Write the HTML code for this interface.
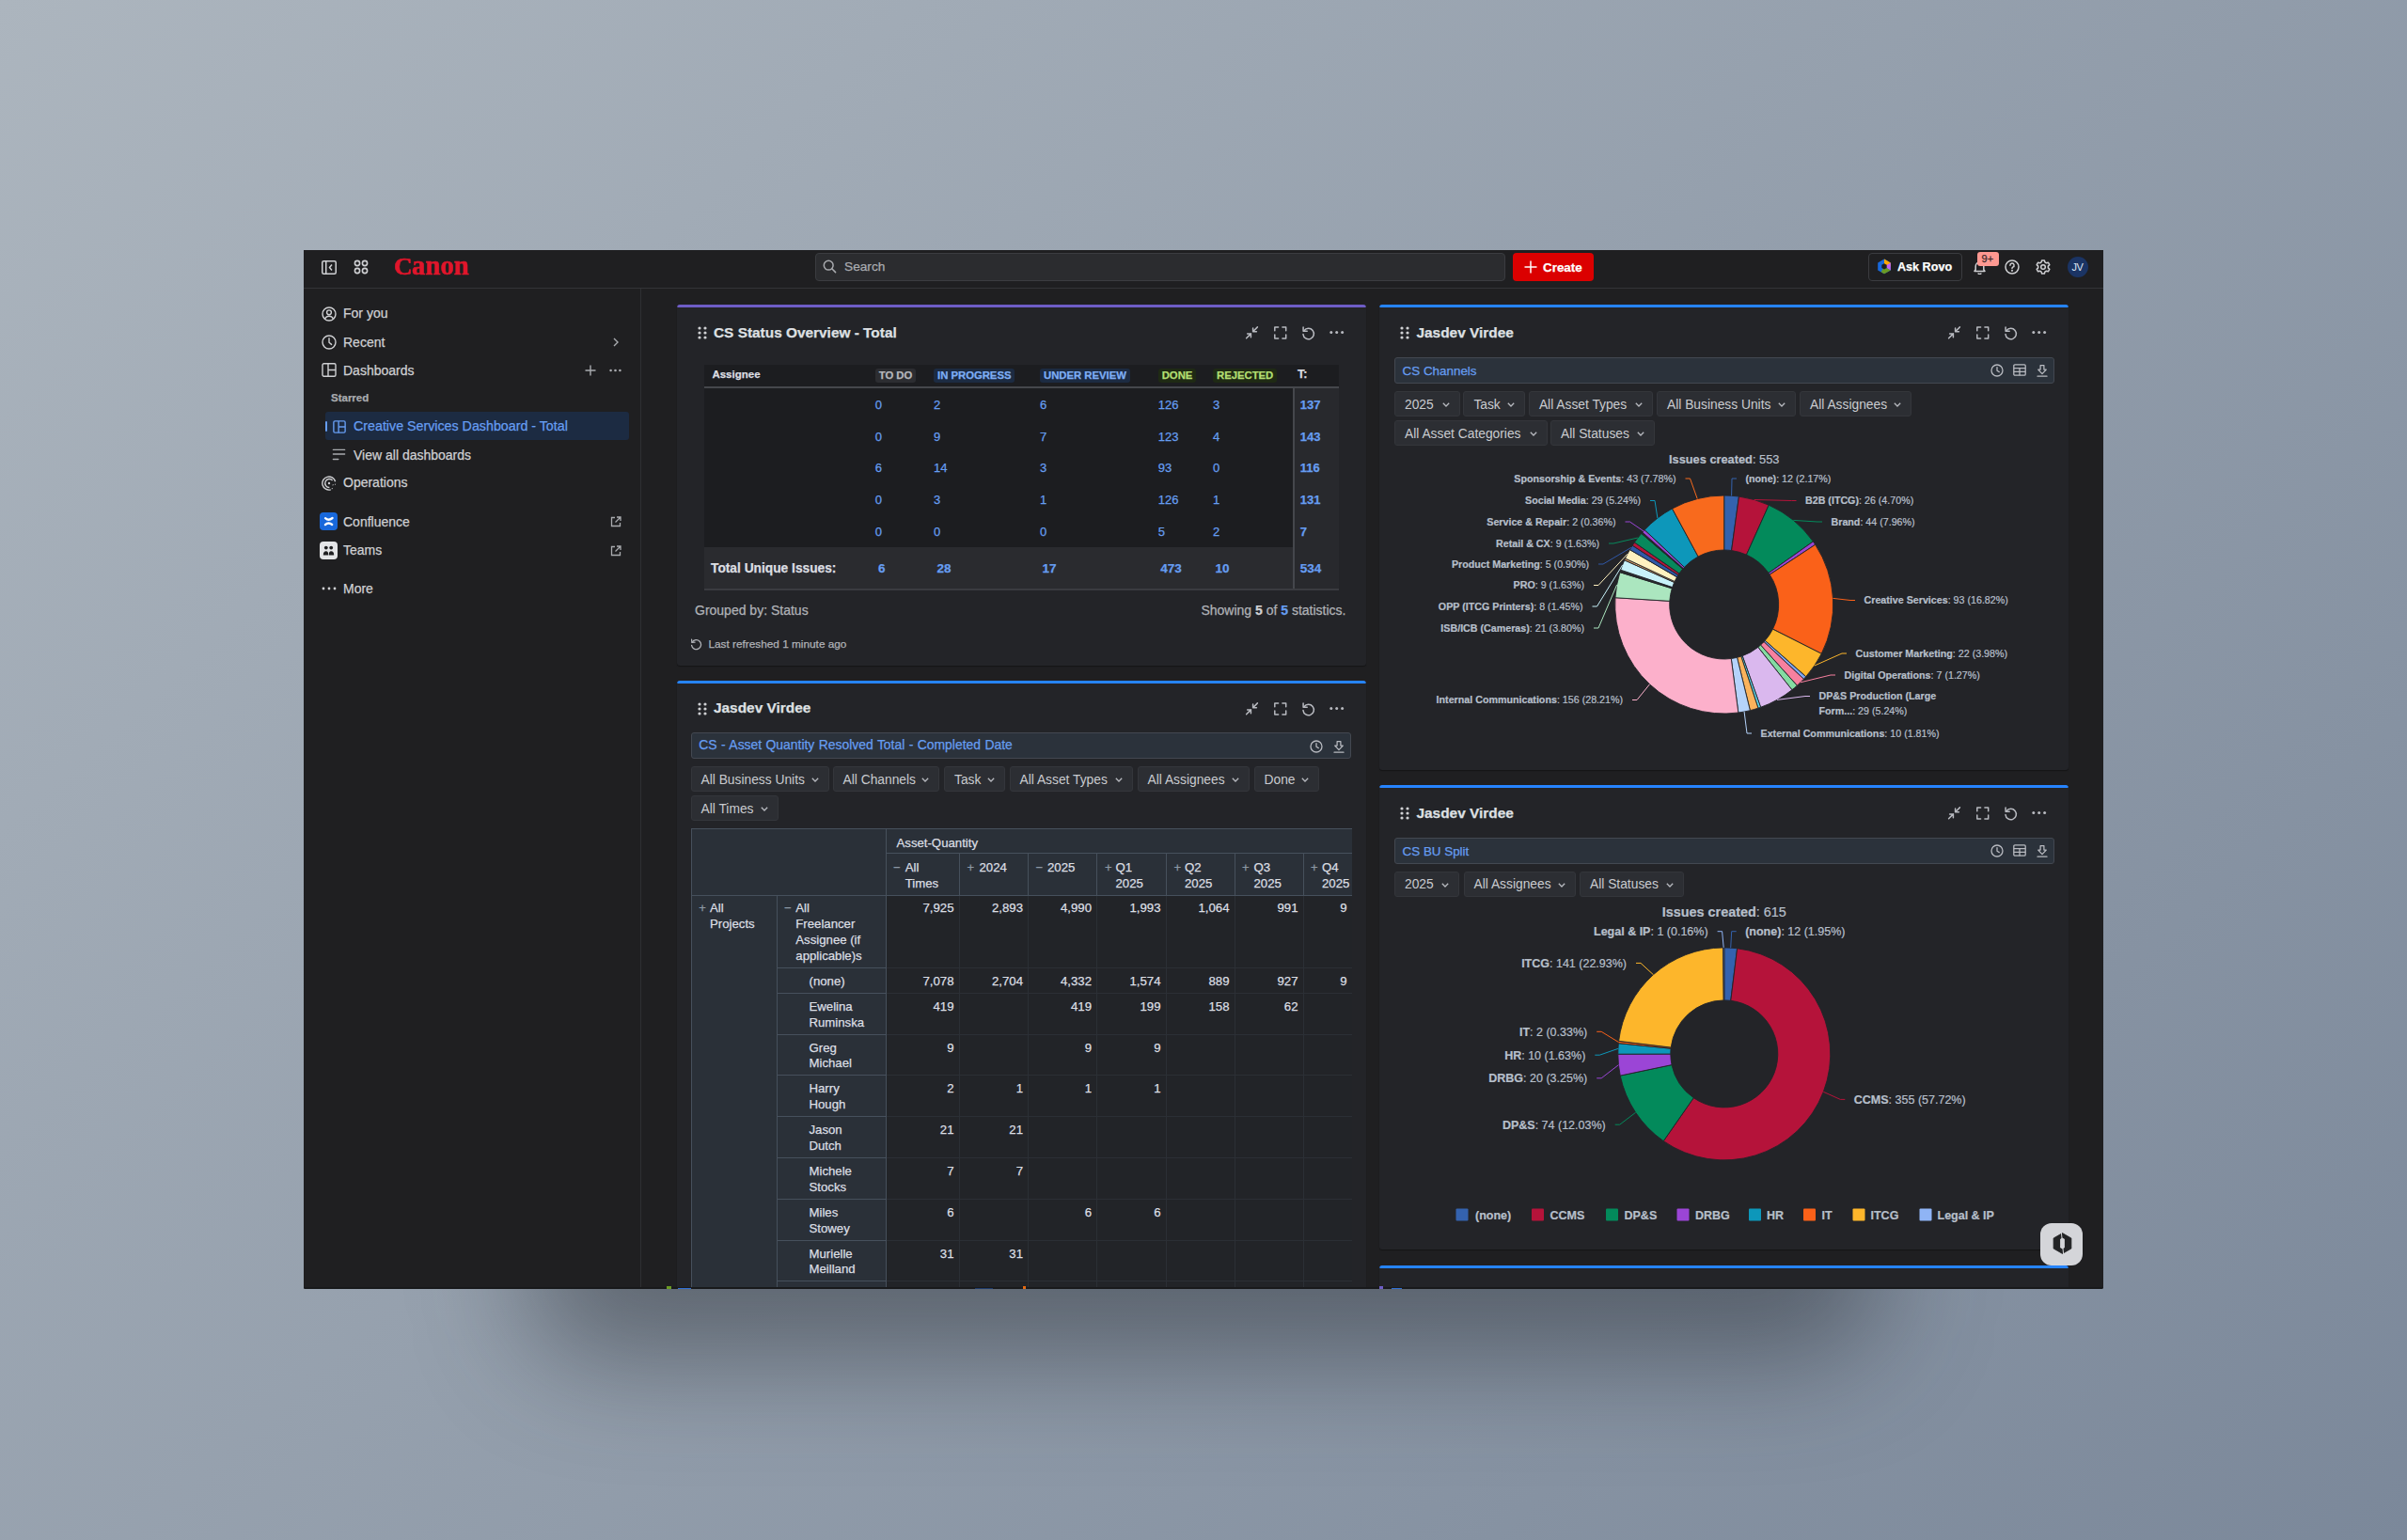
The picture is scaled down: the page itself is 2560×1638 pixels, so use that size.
<!DOCTYPE html>
<html><head><meta charset="utf-8">
<style>
*{box-sizing:border-box;margin:0;padding:0}
html,body{width:2560px;height:1638px;overflow:hidden}
body{position:relative;font-family:"Liberation Sans",Arial,sans-serif;color:#cecfd2;
background:linear-gradient(138deg,#acb5be 0%,#7b889a 100%);}
.abs{position:absolute}
.shadow{position:absolute;left:560px;top:1255px;width:1440px;height:190px;border-radius:80px;background:rgba(30,34,42,.46);filter:blur(60px)}
.win{position:absolute;left:323px;top:266px;width:1914px;height:1105px;background:#1f1f21;overflow:hidden;border-radius:0 0 2px 2px}
.top{position:absolute;left:0;top:0;width:1914px;height:41px;border-bottom:1px solid #333437;background:#1f1f21;z-index:2}
.side{position:absolute;left:0;top:0;width:359px;height:1105px;border-right:1px solid #2e2f32;background:#1f1f21}
.t{position:absolute;white-space:nowrap;line-height:1;-webkit-text-stroke:0.25px currentColor}
.sn{font-size:14px;color:#cfd0d3}
.canon{font-family:"Liberation Serif",serif;font-weight:700;color:#e0162b;-webkit-text-stroke:0.6px #e0162b;transform-origin:0 0}
.search{background:#2b2c2f;border:1px solid #3b3c40;border-radius:4px}
.create{background:#db0000;border-radius:4px}
.rovo{border:1px solid #3b3c40;border-radius:4px}
.badge{font-size:11px;color:#3a2a2a;background:#fd9891;border-radius:3px;padding:1.8px 0 0 0;width:23px;text-align:center;font-weight:400;height:14.5px;letter-spacing:0.3px}
.avatar{width:22px;height:22px;border-radius:50%;background:#1b3464;color:#dfe6f2;font-size:11px;font-weight:400;line-height:22px;text-align:center;letter-spacing:-0.5px}
.card{position:absolute;background:#232428;border-radius:3px;overflow:hidden;box-shadow:0 1px 1px rgba(0,0,0,.35)}
.card .bar{position:absolute;left:0;top:0;right:0;height:3px;border-radius:2px}
.ctitle{font-size:15.4px;font-weight:700;color:#dee0e3}
.loz{top:67.8px;height:15.4px;line-height:15.4px;padding:0 4px;border-radius:3px;font-size:11.3px;font-weight:700;text-transform:uppercase}
.num{font-size:13px;color:#669df1}
.rbar{background:#2b323b;border:1px solid #434851;border-radius:3px}
.rtitle{font-size:13.4px;color:#669df1}
.fbtn{height:27px;background:#2c2e33;border:1px solid #34363b;border-radius:3px;font-size:13.8px;color:#c9cbcf}
.fbtn span{position:absolute;left:10px;top:6.5px;line-height:1;white-space:nowrap}
.fbtn svg{position:absolute;right:10px;top:11px}
.pv{font-size:13.2px;color:#dcdfe4}
.pvs{font-size:13px;color:#8d98a5}
</style></head>
<body>
<div class="shadow"></div>
<div class="win">

  <div class="side">
    <svg class="abs" style="left:19px;top:60px" width="16" height="16" viewBox="0 0 16 16" fill="none" stroke="#cfd0d3" stroke-width="1.4"><circle cx="8" cy="8" r="7"/><circle cx="8" cy="6.3" r="2.4"/><path d="M3.6 12.9 C4.8 10.8 6.2 10.2 8 10.2 C9.8 10.2 11.2 10.8 12.4 12.9"/></svg>
    <div class="t sn" style="left:42px;top:60.4px">For you</div>
    <svg class="abs" style="left:19px;top:90px" width="16" height="16" viewBox="0 0 16 16" fill="none" stroke="#cfd0d3" stroke-width="1.4"><circle cx="8" cy="8" r="7"/><polyline points="8,3.8 8,8.2 10.6,10.4" stroke-linecap="round" stroke-linejoin="round"/></svg>
    <div class="t sn" style="left:42px;top:91.1px">Recent</div>
    <svg class="abs" style="left:328px;top:93px" width="8" height="10" viewBox="0 0 8 10" fill="none" stroke="#a9abaf" stroke-width="1.4"><polyline points="2,1 6,5 2,9"/></svg>
    <svg class="abs" style="left:19px;top:120px" width="16" height="15" viewBox="0 0 16 15" fill="none" stroke="#cfd0d3" stroke-width="1.4"><rect x="1" y="0.8" width="14" height="13.4" rx="1.5"/><line x1="7" y1="1" x2="7" y2="14"/><line x1="7" y1="7.5" x2="15" y2="7.5"/></svg>
    <div class="t sn" style="left:42px;top:120.8px">Dashboards</div>
    <svg class="abs" style="left:299px;top:121.5px" width="12" height="12" viewBox="0 0 12 12" stroke="#a9abaf" stroke-width="1.4"><line x1="6" y1="0.5" x2="6" y2="11.5"/><line x1="0.5" y1="6" x2="11.5" y2="6"/></svg>
    <svg class="abs" style="left:325px;top:125.5px" width="13" height="4" viewBox="0 0 13 4" fill="#a9abaf"><circle cx="1.6" cy="2" r="1.3"/><circle cx="6.5" cy="2" r="1.3"/><circle cx="11.4" cy="2" r="1.3"/></svg>
    <div class="t" style="left:29px;top:152.3px;font-size:11.5px;font-weight:700;color:#a9abaf">Starred</div>
    <div class="abs" style="left:23px;top:172px;width:323px;height:30px;background:#1c2b42;border-radius:3px"></div>
    <div class="abs" style="left:23px;top:182px;width:2px;height:11px;background:#669df1;border-radius:1px"></div>
    <svg class="abs" style="left:30.5px;top:180.5px" width="14" height="14" viewBox="0 0 16 16" fill="none" stroke="#669df1" stroke-width="1.6"><rect x="1" y="1" width="14" height="14" rx="1.5"/><line x1="7" y1="1" x2="7" y2="15"/><line x1="7" y1="8" x2="15" y2="8"/></svg>
    <div class="t" style="left:53px;top:180px;font-size:14.25px;color:#669df1">Creative Services Dashboard - Total</div>
    <svg class="abs" style="left:30px;top:211px" width="15" height="14" viewBox="0 0 15 14" stroke="#a9abaf" stroke-width="1.4" stroke-linecap="round"><line x1="1.4" y1="1.4" x2="13.6" y2="1.4"/><line x1="1.4" y1="6" x2="13.6" y2="6"/><line x1="1.4" y1="11.5" x2="6.8" y2="11.5"/></svg>
    <div class="t sn" style="left:53px;top:210.5px">View all dashboards</div>
    <svg class="abs" style="left:19px;top:239.5px" width="16" height="16" viewBox="0 0 16 16" fill="none" stroke="#cfd0d3" stroke-width="1.4"><path d="M14.6 6.2 A7 7 0 1 0 9.8 14.8"/><path d="M11.6 5 A4.5 4.5 0 1 0 8.4 12.5" /><circle cx="8" cy="8" r="1.2" fill="#cfd0d3" stroke="none"/><path d="M12 9.5 L12.3 10.2 M14.2 9 L14.8 9.4 M11 13.4 L11.5 14" stroke-dasharray="1 1.2"/></svg>
    <div class="t sn" style="left:42px;top:240.1px">Operations</div>
    <div class="abs" style="left:16.5px;top:278.7px;width:19px;height:19px;background:#1868db;border-radius:4px"></div>
    <svg class="abs" style="left:19.5px;top:281.7px" width="13" height="13" viewBox="0 0 13 13" fill="none" stroke="#fff" stroke-width="2.3" stroke-linecap="round"><path d="M3 3.2 Q6.6 6.4 10.6 3"/><path d="M2.9 10.1 Q6.4 6.9 10.2 10"/></svg>
    <div class="t sn" style="left:42px;top:282.1px">Confluence</div>
    <svg class="abs" style="left:326px;top:283px" width="12" height="12" viewBox="0 0 12 12" fill="none" stroke="#a9abaf" stroke-width="1.3"><path d="M5 1.5 L1.5 1.5 L1.5 10.5 L10.5 10.5 L10.5 7"/><path d="M7 1 L11 1 L11 5 M11 1 L5.5 6.5"/></svg>
    <div class="abs" style="left:16.5px;top:309.6px;width:19px;height:19px;background:#e4e5e7;border-radius:4px"></div>
    <svg class="abs" style="left:19.5px;top:312.6px" width="13" height="13" viewBox="0 0 13 13" fill="#1f1f21"><circle cx="3.8" cy="3.6" r="1.9"/><circle cx="9.2" cy="3.6" r="1.9"/><path d="M0.8 11.5 C0.8 8.4 2 7.2 3.8 7.2 C5.6 7.2 6.2 8.4 6.2 11.5 Z"/><path d="M6.8 11.5 C6.8 8.4 7.4 7.2 9.2 7.2 C11 7.2 12.2 8.4 12.2 11.5 Z"/></svg>
    <div class="t sn" style="left:42px;top:312.1px">Teams</div>
    <svg class="abs" style="left:326px;top:313.5px" width="12" height="12" viewBox="0 0 12 12" fill="none" stroke="#a9abaf" stroke-width="1.3"><path d="M5 1.5 L1.5 1.5 L1.5 10.5 L10.5 10.5 L10.5 7"/><path d="M7 1 L11 1 L11 5 M11 1 L5.5 6.5"/></svg>
    <svg class="abs" style="left:19px;top:357.7px" width="16" height="4" viewBox="0 0 16 4" fill="#cfd0d3"><circle cx="2" cy="2" r="1.4"/><circle cx="8" cy="2" r="1.4"/><circle cx="14" cy="2" r="1.4"/></svg>
    <div class="t sn" style="left:42px;top:353.1px">More</div>
  </div>

  <div class="top">
    <svg class="abs" style="left:19px;top:11px" width="16" height="15" viewBox="0 0 16 15" fill="none" stroke="#cfd0d3" stroke-width="1.5"><rect x="0.75" y="0.75" width="14.5" height="13.5" rx="1.5"/><line x1="4.75" y1="1" x2="4.75" y2="14"/><polyline points="11,4.5 8.5,7.5 11,10.5"/></svg>
    <svg class="abs" style="left:53px;top:10px" width="16" height="16" viewBox="0 0 16 16" fill="none" stroke="#cfd0d3" stroke-width="1.6"><circle cx="4" cy="4" r="2.6"/><circle cx="12" cy="4" r="2.6"/><circle cx="4" cy="12" r="2.6"/><circle cx="12" cy="12" r="2.6"/></svg>
    <div class="t canon" style="left:95.8px;top:4.6px;font-size:25.7px;transform:scaleX(1.06)">C</div><div class="t canon" style="left:115px;top:1.1px;font-size:30px;transform:scaleX(0.96)">anon</div>
    <div class="abs search" style="left:544px;top:3px;width:734px;height:30px"></div>
    <svg class="abs" style="left:552px;top:10px" width="15" height="15" viewBox="0 0 15 15" fill="none" stroke="#a9abaf" stroke-width="1.5"><circle cx="6.2" cy="6.2" r="4.9"/><line x1="9.8" y1="9.8" x2="13.6" y2="13.6" stroke-linecap="round"/></svg>
    <div class="t" style="left:575px;top:11px;font-size:13.7px;color:#a9abaf">Search</div>
    <div class="abs create" style="left:1286px;top:3px;width:86px;height:30px"></div>
    <svg class="abs" style="left:1298px;top:11px" width="14" height="14" viewBox="0 0 14 14" stroke="#fff" stroke-width="1.5"><line x1="7" y1="0.5" x2="7" y2="13.5"/><line x1="0.5" y1="7" x2="13.5" y2="7"/></svg>
    <div class="t" style="left:1318px;top:11.5px;font-size:13.4px;font-weight:700;color:#fff">Create</div>
    <div class="abs rovo" style="left:1664px;top:3px;width:100px;height:30px"></div>
    <svg class="abs" style="left:1673px;top:9px" width="16" height="17" viewBox="0 0 16 17"><path d="M8 0.5 L14.8 4.4 L14.8 12.4 L8 16.3 L1.2 12.4 L1.2 4.4 Z" fill="#1868db"/><path d="M8 0.5 L14.8 4.4 L14.8 8.4 L8 8.4 Z" fill="#fca700"/><path d="M14.8 4.4 L14.8 12.4 L8 8.4 Z" fill="#bf63f3"/><path d="M8 8.4 L14.8 12.4 L8 16.3 L4.6 14.3 Z" fill="#6a9a23"/><path d="M8 5.3 L10.7 6.8 L10.7 10 L8 11.5 L5.3 10 L5.3 6.8 Z" fill="#1f1f21"/></svg>
    <div class="t" style="left:1695px;top:11.5px;font-size:12.6px;font-weight:700;color:#fff">Ask Rovo</div>
    <svg class="abs" style="left:1775px;top:11px" width="15" height="15" viewBox="0 0 15 15" fill="none" stroke="#cfd0d3" stroke-width="1.5"><path d="M2 11.5 L3.2 9.8 L3.2 6.2 A4.3 4.3 0 0 1 11.8 6.2 L11.8 9.8 L13 11.5 Z" stroke-linejoin="round"/><path d="M5.8 13.4 A1.8 1.6 0 0 0 9.2 13.4"/></svg>
    <div class="t badge" style="left:1779.5px;top:2.4px">9+</div>
    <svg class="abs" style="left:1809px;top:10px" width="16" height="16" viewBox="0 0 16 16" fill="none" stroke="#cfd0d3" stroke-width="1.5"><circle cx="8" cy="8" r="7"/><path d="M5.9 6.2 A2.1 2.1 0 1 1 8.8 8.1 C8.2 8.4 8 8.8 8 9.4" stroke-linecap="round"/><circle cx="8" cy="11.8" r="0.4" fill="#cfd0d3"/></svg>
    <svg class="abs" style="left:1842px;top:10px" width="16" height="16" viewBox="0 0 16 16" fill="none" stroke="#cfd0d3" stroke-width="1.5"><path d="M6.6 0.9 L9.4 0.9 L9.9 2.9 L11.4 3.8 L13.4 3.2 L14.8 5.6 L13.3 7.1 L13.3 8.9 L14.8 10.4 L13.4 12.8 L11.4 12.2 L9.9 13.1 L9.4 15.1 L6.6 15.1 L6.1 13.1 L4.6 12.2 L2.6 12.8 L1.2 10.4 L2.7 8.9 L2.7 7.1 L1.2 5.6 L2.6 3.2 L4.6 3.8 L6.1 2.9 Z" stroke-linejoin="round"/><circle cx="8" cy="8" r="2.3"/></svg>
    <div class="abs avatar" style="left:1875.5px;top:6.5px">JV</div>
  </div>

  <div class="card" style="left:397px;top:58px;width:733px;height:384px">
    <div class="bar" style="background:#6e5dc6"></div>
    <svg class="abs drag" style="left:21.5px;top:22.5px" width="10" height="14" viewBox="0 0 10 14" fill="#cfd0d3"><circle cx="2" cy="2" r="1.6"/><circle cx="8" cy="2" r="1.6"/><circle cx="2" cy="7" r="1.6"/><circle cx="8" cy="7" r="1.6"/><circle cx="2" cy="12" r="1.6"/><circle cx="8" cy="12" r="1.6"/></svg>
    <div class="t ctitle" style="left:39px;top:21.5px">CS Status Overview - Total</div>
    <svg class="abs" style="left:600px;top:18px" width="115" height="24" viewBox="600 18 115 24" fill="none" stroke="#b8bac0" stroke-width="1.5" stroke-linecap="round" stroke-linejoin="round">
<g transform="translate(605,23.3)"><path d="M12.4 0.6 L7.6 5.4 M7.6 1.6 L7.6 5.4 L11.4 5.4"/><path d="M0.6 12.4 L5.4 7.6 M1.6 7.6 L5.4 7.6 L5.4 11.4"/></g>
<g transform="translate(635,23.2)"><path d="M0.8 4.6 L0.8 0.8 L4.6 0.8 M8.9 0.8 L12.7 0.8 L12.7 4.6 M12.7 8.9 L12.7 12.7 L8.9 12.7 M4.6 12.7 L0.8 12.7 L0.8 8.9"/></g>
<g transform="translate(664.8,23.2)"><path d="M2.2 4.6 A5.7 5.7 0 1 1 1.2 8.4"/><path d="M1.3 0.9 L1.3 5.1 L5.4 5.1"/></g>
<g fill="#b8bac0" stroke="none"><circle cx="695.8" cy="29.5" r="1.5"/><circle cx="701.7" cy="29.5" r="1.5"/><circle cx="707.6" cy="29.5" r="1.5"/></g>
</svg>
    <div class="abs" style="left:29px;top:64px;width:675px;height:240px;background:#1c1d20"></div>
    <div class="abs" style="left:29px;top:87px;width:675px;height:2px;background:#45474c"></div>
    <div class="abs" style="left:657px;top:89px;width:47px;height:213px;background:#28292d"></div>
    <div class="abs" style="left:29px;top:258px;width:626px;height:44px;background:#2a2b2f"></div>
    <div class="abs" style="left:655px;top:89px;width:2px;height:214px;background:#45474c"></div>
    <div class="abs" style="left:29px;top:302px;width:675px;height:1.5px;background:#3a3b40"></div>
    <div class="t" style="left:37.4px;top:68.6px;font-size:11.5px;font-weight:700;color:#dcdee2">Assignee</div>
    <div class="t loz" style="left:210.7px;background:#2c2d31;color:#b5b7bc">TO DO</div>
    <div class="t loz" style="left:273px;background:#1c2b42;color:#7eaef5">IN PROGRESS</div>
    <div class="t loz" style="left:386px;background:#1c2b42;color:#7eaef5">UNDER REVIEW</div>
    <div class="t loz" style="left:511.7px;background:#1f2a14;color:#b3df72">DONE</div>
    <div class="t loz" style="left:570px;background:#1f2a14;color:#b3df72">REJECTED</div>
    <div class="t" style="left:660px;top:68px;font-size:12.5px;font-weight:700;color:#dcdee2">T:</div>
    <div class="t num" style="left:210.7px;top:99.9px;">0</div>
    <div class="t num" style="left:273px;top:99.9px;">2</div>
    <div class="t num" style="left:386px;top:99.9px;">6</div>
    <div class="t num" style="left:511.7px;top:99.9px;">126</div>
    <div class="t num" style="left:570px;top:99.9px;">3</div>
    <div class="t num" style="left:662.8px;top:99.9px;font-weight:700;">137</div>
    <div class="t num" style="left:210.7px;top:133.6px;">0</div>
    <div class="t num" style="left:273px;top:133.6px;">9</div>
    <div class="t num" style="left:386px;top:133.6px;">7</div>
    <div class="t num" style="left:511.7px;top:133.6px;">123</div>
    <div class="t num" style="left:570px;top:133.6px;">4</div>
    <div class="t num" style="left:662.8px;top:133.6px;font-weight:700;">143</div>
    <div class="t num" style="left:210.7px;top:167.4px;">6</div>
    <div class="t num" style="left:273px;top:167.4px;">14</div>
    <div class="t num" style="left:386px;top:167.4px;">3</div>
    <div class="t num" style="left:511.7px;top:167.4px;">93</div>
    <div class="t num" style="left:570px;top:167.4px;">0</div>
    <div class="t num" style="left:662.8px;top:167.4px;font-weight:700;">116</div>
    <div class="t num" style="left:210.7px;top:201.2px;">0</div>
    <div class="t num" style="left:273px;top:201.2px;">3</div>
    <div class="t num" style="left:386px;top:201.2px;">1</div>
    <div class="t num" style="left:511.7px;top:201.2px;">126</div>
    <div class="t num" style="left:570px;top:201.2px;">1</div>
    <div class="t num" style="left:662.8px;top:201.2px;font-weight:700;">131</div>
    <div class="t num" style="left:210.7px;top:235.0px;">0</div>
    <div class="t num" style="left:273px;top:235.0px;">0</div>
    <div class="t num" style="left:386px;top:235.0px;">0</div>
    <div class="t num" style="left:511.7px;top:235.0px;">5</div>
    <div class="t num" style="left:570px;top:235.0px;">2</div>
    <div class="t num" style="left:662.8px;top:235.0px;font-weight:700;">7</div>
    <div class="t" style="left:36px;top:273.6px;font-size:13.75px;font-weight:700;color:#dcdee2">Total Unique Issues:</div>
    <div class="t num" style="left:214px;top:274.1px;font-weight:700;font-size:13.5px">6</div>
    <div class="t num" style="left:276.5px;top:274.1px;font-weight:700;font-size:13.5px">28</div>
    <div class="t num" style="left:388.4px;top:274.1px;font-weight:700;font-size:13.5px">17</div>
    <div class="t num" style="left:514.2px;top:274.1px;font-weight:700;font-size:13.5px">473</div>
    <div class="t num" style="left:572.5px;top:274.1px;font-weight:700;font-size:13.5px">10</div>
    <div class="t num" style="left:662.8px;top:274.1px;font-weight:700;font-size:13.5px">534</div>
    <div class="t" style="left:19px;top:318px;font-size:14px;color:#b0b2b7">Grouped by: Status</div>
    <div class="t" style="right:21.5px;top:318px;font-size:14px;color:#b0b2b7">Showing <b style="color:#cfd0d3">5</b> of <b style="color:#669df1">5</b> statistics.</div>
    <svg class="abs" style="left:14px;top:355px" width="13" height="13" viewBox="0 0 13 13" fill="none" stroke="#b0b2b7" stroke-width="1.3"><path d="M2.2 4.2 A5 5 0 1 1 1.6 7.4" stroke-linecap="round"/><polyline points="1.6,1.2 1.9,4.4 5,4.2" stroke-linejoin="round" stroke-linecap="round"/></svg>
    <div class="t" style="left:33.5px;top:355.5px;font-size:11.8px;color:#b0b2b7">Last refreshed 1 minute ago</div>
  </div>

<div class="card" style="left:397px;top:458px;width:733px;height:700px">
<div class="bar" style="background:#2684ff"></div>
<svg class="abs drag" style="left:21.5px;top:22.5px" width="10" height="14" viewBox="0 0 10 14" fill="#cfd0d3"><circle cx="2" cy="2" r="1.6"/><circle cx="8" cy="2" r="1.6"/><circle cx="2" cy="7" r="1.6"/><circle cx="8" cy="7" r="1.6"/><circle cx="2" cy="12" r="1.6"/><circle cx="8" cy="12" r="1.6"/></svg>
<div class="t ctitle" style="left:39px;top:21px">Jasdev Virdee</div>
<svg class="abs" style="left:600px;top:18px" width="115" height="24" viewBox="600 18 115 24" fill="none" stroke="#b8bac0" stroke-width="1.5" stroke-linecap="round" stroke-linejoin="round">
<g transform="translate(605,23.3)"><path d="M12.4 0.6 L7.6 5.4 M7.6 1.6 L7.6 5.4 L11.4 5.4"/><path d="M0.6 12.4 L5.4 7.6 M1.6 7.6 L5.4 7.6 L5.4 11.4"/></g>
<g transform="translate(635,23.2)"><path d="M0.8 4.6 L0.8 0.8 L4.6 0.8 M8.9 0.8 L12.7 0.8 L12.7 4.6 M12.7 8.9 L12.7 12.7 L8.9 12.7 M4.6 12.7 L0.8 12.7 L0.8 8.9"/></g>
<g transform="translate(664.8,23.2)"><path d="M2.2 4.6 A5.7 5.7 0 1 1 1.2 8.4"/><path d="M1.3 0.9 L1.3 5.1 L5.4 5.1"/></g>
<g fill="#b8bac0" stroke="none"><circle cx="695.8" cy="29.5" r="1.5"/><circle cx="701.7" cy="29.5" r="1.5"/><circle cx="707.6" cy="29.5" r="1.5"/></g>
</svg>
<div class="abs rbar" style="left:15px;top:55px;width:701.5px;height:28px"></div>
<div class="t rtitle" style="left:23.3px;top:62.2px;font-size:13.9px;word-spacing:0.6px">CS - Asset Quantity Resolved Total - Completed Date</div>
<svg class="abs" style="left:672.5px;top:62.5px" width="14" height="14" viewBox="0 0 14 14" fill="none" stroke="#b8bac0" stroke-width="1.3" stroke-linecap="round"><circle cx="7" cy="7" r="6"/><polyline points="7,3.6 7,7.2 9.3,8.6"/></svg>
<svg class="abs" style="left:697.5px;top:63px" width="12" height="15" viewBox="0 0 12 15" fill="none" stroke="#b8bac0" stroke-width="1.25" stroke-linejoin="round"><path d="M4.1 1.6 L7.9 1.6 L7.9 6.1 L10.3 6.1 L6 10.6 L1.7 6.1 L4.1 6.1 Z"/><line x1="1" y1="13.2" x2="11" y2="13.2" stroke-linecap="round"/></svg>
<div class="abs fbtn" style="left:14.5px;top:91.2px;width:147.0px"><span>All Business Units</span><svg width="8" height="5" viewBox="0 0 8 5" fill="none" stroke="#b8bac0" stroke-width="1.3"><polyline points="0.8,0.8 4,4 7.2,0.8"/></svg></div>
<div class="abs fbtn" style="left:165.5px;top:91.2px;width:113.5px"><span>All Channels</span><svg width="8" height="5" viewBox="0 0 8 5" fill="none" stroke="#b8bac0" stroke-width="1.3"><polyline points="0.8,0.8 4,4 7.2,0.8"/></svg></div>
<div class="abs fbtn" style="left:284px;top:91.2px;width:65.0px"><span>Task</span><svg width="8" height="5" viewBox="0 0 8 5" fill="none" stroke="#b8bac0" stroke-width="1.3"><polyline points="0.8,0.8 4,4 7.2,0.8"/></svg></div>
<div class="abs fbtn" style="left:353.5px;top:91.2px;width:131.5px"><span>All Asset Types</span><svg width="8" height="5" viewBox="0 0 8 5" fill="none" stroke="#b8bac0" stroke-width="1.3"><polyline points="0.8,0.8 4,4 7.2,0.8"/></svg></div>
<div class="abs fbtn" style="left:489.5px;top:91.2px;width:119.5px"><span>All Assignees</span><svg width="8" height="5" viewBox="0 0 8 5" fill="none" stroke="#b8bac0" stroke-width="1.3"><polyline points="0.8,0.8 4,4 7.2,0.8"/></svg></div>
<div class="abs fbtn" style="left:613.5px;top:91.2px;width:69.5px"><span>Done</span><svg width="8" height="5" viewBox="0 0 8 5" fill="none" stroke="#b8bac0" stroke-width="1.3"><polyline points="0.8,0.8 4,4 7.2,0.8"/></svg></div>
<div class="abs fbtn" style="left:14.5px;top:122.3px;width:93.5px"><span>All Times</span><svg width="8" height="5" viewBox="0 0 8 5" fill="none" stroke="#b8bac0" stroke-width="1.3"><polyline points="0.8,0.8 4,4 7.2,0.8"/></svg></div>
<div class="abs" style="left:15px;top:157.3px;width:702.5px;height:499.70000000000005px;overflow:hidden">
<div class="abs" style="left:0;top:0;width:702.5px;height:71.7px;background:#2a3038"></div>
<div class="abs" style="left:0;top:71.7px;width:207.5px;height:600px;background:#2a3038"></div>
<div class="abs" style="left:207.5px;top:71.7px;width:600px;height:600px;background:#222428"></div>
<div class="abs" style="left:285.0px;top:71.7px;width:1px;height:600px;background:#2b2f35"></div>
<div class="abs" style="left:358.0px;top:71.7px;width:1px;height:600px;background:#2b2f35"></div>
<div class="abs" style="left:431.0px;top:71.7px;width:1px;height:600px;background:#2b2f35"></div>
<div class="abs" style="left:504.5px;top:71.7px;width:1px;height:600px;background:#2b2f35"></div>
<div class="abs" style="left:577.5px;top:71.7px;width:1px;height:600px;background:#2b2f35"></div>
<div class="abs" style="left:650.5px;top:71.7px;width:1px;height:600px;background:#2b2f35"></div>
<div class="abs" style="left:723.5px;top:71.7px;width:1px;height:600px;background:#2b2f35"></div>
<div class="abs" style="left:207.5px;top:147.6px;width:600px;height:1px;background:#2b2f35"></div>
<div class="abs" style="left:207.5px;top:174.6px;width:600px;height:1px;background:#2b2f35"></div>
<div class="abs" style="left:207.5px;top:218.4px;width:600px;height:1px;background:#2b2f35"></div>
<div class="abs" style="left:207.5px;top:262.2px;width:600px;height:1px;background:#2b2f35"></div>
<div class="abs" style="left:207.5px;top:306.0px;width:600px;height:1px;background:#2b2f35"></div>
<div class="abs" style="left:207.5px;top:349.8px;width:600px;height:1px;background:#2b2f35"></div>
<div class="abs" style="left:207.5px;top:393.6px;width:600px;height:1px;background:#2b2f35"></div>
<div class="abs" style="left:207.5px;top:437.4px;width:600px;height:1px;background:#2b2f35"></div>
<div class="abs" style="left:207.5px;top:481.2px;width:600px;height:1px;background:#2b2f35"></div>
<div class="abs" style="left:207.5px;top:525.0px;width:600px;height:1px;background:#2b2f35"></div>
<div class="abs" style="left:0;top:0;width:702.5px;height:1px;background:#46505c"></div>
<div class="abs" style="left:0;top:0;width:1px;height:600px;background:#46505c"></div>
<div class="abs" style="left:207.0px;top:0;width:1px;height:600px;background:#46505c"></div>
<div class="abs" style="left:207.5px;top:26.2px;width:600px;height:1px;background:#46505c"></div>
<div class="abs" style="left:285.0px;top:26.7px;width:1px;height:45.0px;background:#46505c"></div>
<div class="abs" style="left:358.0px;top:26.7px;width:1px;height:45.0px;background:#46505c"></div>
<div class="abs" style="left:431.0px;top:26.7px;width:1px;height:45.0px;background:#46505c"></div>
<div class="abs" style="left:504.5px;top:26.7px;width:1px;height:45.0px;background:#46505c"></div>
<div class="abs" style="left:577.5px;top:26.7px;width:1px;height:45.0px;background:#46505c"></div>
<div class="abs" style="left:650.5px;top:26.7px;width:1px;height:45.0px;background:#46505c"></div>
<div class="abs" style="left:723.5px;top:26.7px;width:1px;height:45.0px;background:#46505c"></div>
<div class="abs" style="left:0;top:71.2px;width:702.5px;height:1px;background:#46505c"></div>
<div class="abs" style="left:91.0px;top:71.7px;width:1px;height:600px;background:#46505c"></div>
<div class="abs" style="left:91.5px;top:147.6px;width:116.0px;height:1px;background:#46505c"></div>
<div class="abs" style="left:91.5px;top:174.6px;width:116.0px;height:1px;background:#46505c"></div>
<div class="abs" style="left:91.5px;top:218.4px;width:116.0px;height:1px;background:#46505c"></div>
<div class="abs" style="left:91.5px;top:262.2px;width:116.0px;height:1px;background:#46505c"></div>
<div class="abs" style="left:91.5px;top:306.0px;width:116.0px;height:1px;background:#46505c"></div>
<div class="abs" style="left:91.5px;top:349.8px;width:116.0px;height:1px;background:#46505c"></div>
<div class="abs" style="left:91.5px;top:393.6px;width:116.0px;height:1px;background:#46505c"></div>
<div class="abs" style="left:91.5px;top:437.4px;width:116.0px;height:1px;background:#46505c"></div>
<div class="abs" style="left:91.5px;top:481.2px;width:116.0px;height:1px;background:#46505c"></div>
<div class="abs" style="left:91.5px;top:525.0px;width:116.0px;height:1px;background:#46505c"></div>
<div class="t pv" style="left:218.5px;top:8.30px;">Asset-Quantity</div>
<div class="t pvs" style="left:215px;top:34.80px">−</div>
<div class="t pv" style="left:227.7px;top:34.80px;">All</div>
<div class="t pv" style="left:227.7px;top:51.50px;">Times</div>
<div class="t pvs" style="left:293.5px;top:34.80px">+</div>
<div class="t pv" style="left:306.5px;top:34.80px;">2024</div>
<div class="t pvs" style="left:366.5px;top:34.80px">−</div>
<div class="t pv" style="left:379px;top:34.80px;">2025</div>
<div class="t pvs" style="left:440px;top:34.80px">+</div>
<div class="t pv" style="left:451.5px;top:34.80px;">Q1</div>
<div class="t pv" style="left:451.5px;top:51.50px;">2025</div>
<div class="t pvs" style="left:513.5px;top:34.80px">+</div>
<div class="t pv" style="left:525px;top:34.80px;">Q2</div>
<div class="t pv" style="left:525px;top:51.50px;">2025</div>
<div class="t pvs" style="left:586px;top:34.80px">+</div>
<div class="t pv" style="left:598.5px;top:34.80px;">Q3</div>
<div class="t pv" style="left:598.5px;top:51.50px;">2025</div>
<div class="t pvs" style="left:659px;top:34.80px">+</div>
<div class="t pv" style="left:671px;top:34.80px;">Q4</div>
<div class="t pv" style="left:671px;top:51.50px;">2025</div>
<div class="t pvs" style="left:8.3px;top:78.10px">+</div>
<div class="t pv" style="left:20px;top:78.10px;">All</div>
<div class="t pv" style="left:20px;top:94.90px;">Projects</div>
<div class="t pvs" style="left:98.9px;top:78.10px">−</div>
<div class="t pv" style="left:111.3px;top:78.10px;">All</div>
<div class="t pv" style="left:111.3px;top:94.90px;">Freelancer</div>
<div class="t pv" style="left:111.3px;top:111.70px;">Assignee (if</div>
<div class="t pv" style="left:111.3px;top:128.50px;">applicable)s</div>
<div class="t pv" style="left:125.5px;top:155.30px;">(none)</div>
<div class="t pv" style="left:125.5px;top:182.50px;">Ewelina</div>
<div class="t pv" style="left:125.5px;top:199.30px;">Ruminska</div>
<div class="t pv" style="left:125.5px;top:226.30px;">Greg</div>
<div class="t pv" style="left:125.5px;top:243.10px;">Michael</div>
<div class="t pv" style="left:125.5px;top:270.10px;">Harry</div>
<div class="t pv" style="left:125.5px;top:286.90px;">Hough</div>
<div class="t pv" style="left:125.5px;top:313.90px;">Jason</div>
<div class="t pv" style="left:125.5px;top:330.70px;">Dutch</div>
<div class="t pv" style="left:125.5px;top:357.70px;">Michele</div>
<div class="t pv" style="left:125.5px;top:374.50px;">Stocks</div>
<div class="t pv" style="left:125.5px;top:401.50px;">Miles</div>
<div class="t pv" style="left:125.5px;top:418.30px;">Stowey</div>
<div class="t pv" style="left:125.5px;top:445.30px;">Murielle</div>
<div class="t pv" style="left:125.5px;top:462.10px;">Meilland</div>
<div class="t pv" style="right:423.0px;top:78.10px">7,925</div>
<div class="t pv" style="right:349.5px;top:78.10px">2,893</div>
<div class="t pv" style="right:276.5px;top:78.10px">4,990</div>
<div class="t pv" style="right:203.0px;top:78.10px">1,993</div>
<div class="t pv" style="right:130.0px;top:78.10px">1,064</div>
<div class="t pv" style="right:57.0px;top:78.10px">991</div>
<div class="t pv" style="right:5.0px;top:78.10px">9</div>
<div class="t pv" style="right:423.0px;top:155.30px">7,078</div>
<div class="t pv" style="right:349.5px;top:155.30px">2,704</div>
<div class="t pv" style="right:276.5px;top:155.30px">4,332</div>
<div class="t pv" style="right:203.0px;top:155.30px">1,574</div>
<div class="t pv" style="right:130.0px;top:155.30px">889</div>
<div class="t pv" style="right:57.0px;top:155.30px">927</div>
<div class="t pv" style="right:5.0px;top:155.30px">9</div>
<div class="t pv" style="right:423.0px;top:182.50px">419</div>
<div class="t pv" style="right:276.5px;top:182.50px">419</div>
<div class="t pv" style="right:203.0px;top:182.50px">199</div>
<div class="t pv" style="right:130.0px;top:182.50px">158</div>
<div class="t pv" style="right:57.0px;top:182.50px">62</div>
<div class="t pv" style="right:423.0px;top:226.30px">9</div>
<div class="t pv" style="right:276.5px;top:226.30px">9</div>
<div class="t pv" style="right:203.0px;top:226.30px">9</div>
<div class="t pv" style="right:423.0px;top:270.10px">2</div>
<div class="t pv" style="right:349.5px;top:270.10px">1</div>
<div class="t pv" style="right:276.5px;top:270.10px">1</div>
<div class="t pv" style="right:203.0px;top:270.10px">1</div>
<div class="t pv" style="right:423.0px;top:313.90px">21</div>
<div class="t pv" style="right:349.5px;top:313.90px">21</div>
<div class="t pv" style="right:423.0px;top:357.70px">7</div>
<div class="t pv" style="right:349.5px;top:357.70px">7</div>
<div class="t pv" style="right:423.0px;top:401.50px">6</div>
<div class="t pv" style="right:276.5px;top:401.50px">6</div>
<div class="t pv" style="right:203.0px;top:401.50px">6</div>
<div class="t pv" style="right:423.0px;top:445.30px">31</div>
<div class="t pv" style="right:349.5px;top:445.30px">31</div>
</div>
</div>
<div class="card" style="left:1144px;top:58px;width:733px;height:495px">
<div class="bar" style="background:#2684ff"></div>
<svg class="abs drag" style="left:22px;top:22.5px" width="10" height="14" viewBox="0 0 10 14" fill="#cfd0d3"><circle cx="2" cy="2" r="1.6"/><circle cx="8" cy="2" r="1.6"/><circle cx="2" cy="7" r="1.6"/><circle cx="8" cy="7" r="1.6"/><circle cx="2" cy="12" r="1.6"/><circle cx="8" cy="12" r="1.6"/></svg>
<div class="t ctitle" style="left:39.5px;top:21.5px">Jasdev Virdee</div>
<svg class="abs" style="left:600px;top:18px" width="115" height="24" viewBox="600 18 115 24" fill="none" stroke="#b8bac0" stroke-width="1.5" stroke-linecap="round" stroke-linejoin="round">
<g transform="translate(605,23.3)"><path d="M12.4 0.6 L7.6 5.4 M7.6 1.6 L7.6 5.4 L11.4 5.4"/><path d="M0.6 12.4 L5.4 7.6 M1.6 7.6 L5.4 7.6 L5.4 11.4"/></g>
<g transform="translate(635,23.2)"><path d="M0.8 4.6 L0.8 0.8 L4.6 0.8 M8.9 0.8 L12.7 0.8 L12.7 4.6 M12.7 8.9 L12.7 12.7 L8.9 12.7 M4.6 12.7 L0.8 12.7 L0.8 8.9"/></g>
<g transform="translate(664.8,23.2)"><path d="M2.2 4.6 A5.7 5.7 0 1 1 1.2 8.4"/><path d="M1.3 0.9 L1.3 5.1 L5.4 5.1"/></g>
<g fill="#b8bac0" stroke="none"><circle cx="695.8" cy="29.5" r="1.5"/><circle cx="701.7" cy="29.5" r="1.5"/><circle cx="707.6" cy="29.5" r="1.5"/></g>
</svg>
<div class="abs rbar" style="left:16px;top:56px;width:702px;height:28px"></div>
<div class="t rtitle" style="left:24.6px;top:63.5px">CS Channels</div>
<svg class="abs" style="left:649.5px;top:62.5px" width="14" height="14" viewBox="0 0 14 14" fill="none" stroke="#b8bac0" stroke-width="1.3" stroke-linecap="round"><circle cx="7" cy="7" r="6"/><polyline points="7,3.6 7,7.2 9.3,8.6"/></svg>
<svg class="abs" style="left:674px;top:63.0px" width="14" height="13" viewBox="0 0 14 13" fill="none" stroke="#b8bac0" stroke-width="1.3"><rect x="0.8" y="0.8" width="12.4" height="11.4" rx="1.2"/><line x1="0.8" y1="4.6" x2="13.2" y2="4.6"/><line x1="0.8" y1="8.4" x2="13.2" y2="8.4"/><line x1="7" y1="4.6" x2="7" y2="12.2"/></svg>
<svg class="abs" style="left:698.7px;top:63px" width="12" height="15" viewBox="0 0 12 15" fill="none" stroke="#b8bac0" stroke-width="1.25" stroke-linejoin="round"><path d="M4.1 1.6 L7.9 1.6 L7.9 6.1 L10.3 6.1 L6 10.6 L1.7 6.1 L4.1 6.1 Z"/><line x1="1" y1="13.2" x2="11" y2="13.2" stroke-linecap="round"/></svg>
<div class="abs fbtn" style="left:16.0px;top:92.0px;width:69.7px"><span>2025</span><svg width="8" height="5" viewBox="0 0 8 5" fill="none" stroke="#b8bac0" stroke-width="1.3"><polyline points="0.8,0.8 4,4 7.2,0.8"/></svg></div>
<div class="abs fbtn" style="left:89.4px;top:92.0px;width:65.3px"><span>Task</span><svg width="8" height="5" viewBox="0 0 8 5" fill="none" stroke="#b8bac0" stroke-width="1.3"><polyline points="0.8,0.8 4,4 7.2,0.8"/></svg></div>
<div class="abs fbtn" style="left:158.9px;top:92.0px;width:131.9px"><span>All Asset Types</span><svg width="8" height="5" viewBox="0 0 8 5" fill="none" stroke="#b8bac0" stroke-width="1.3"><polyline points="0.8,0.8 4,4 7.2,0.8"/></svg></div>
<div class="abs fbtn" style="left:295.0px;top:92.0px;width:148.0px"><span>All Business Units</span><svg width="8" height="5" viewBox="0 0 8 5" fill="none" stroke="#b8bac0" stroke-width="1.3"><polyline points="0.8,0.8 4,4 7.2,0.8"/></svg></div>
<div class="abs fbtn" style="left:447.0px;top:92.0px;width:119.0px"><span>All Assignees</span><svg width="8" height="5" viewBox="0 0 8 5" fill="none" stroke="#b8bac0" stroke-width="1.3"><polyline points="0.8,0.8 4,4 7.2,0.8"/></svg></div>
<div class="abs fbtn" style="left:16.0px;top:123.0px;width:162.8px"><span>All Asset Categories</span><svg width="8" height="5" viewBox="0 0 8 5" fill="none" stroke="#b8bac0" stroke-width="1.3"><polyline points="0.8,0.8 4,4 7.2,0.8"/></svg></div>
<div class="abs fbtn" style="left:182.0px;top:123.0px;width:111.0px"><span>All Statuses</span><svg width="8" height="5" viewBox="0 0 8 5" fill="none" stroke="#b8bac0" stroke-width="1.3"><polyline points="0.8,0.8 4,4 7.2,0.8"/></svg></div>
<svg class="abs" style="left:0;top:0" width="733" height="495" viewBox="1467 324 733 495" font-family="Liberation Sans, Arial, sans-serif">
<path d="M1833.70 527.00A116 116 0 0 1 1849.44 528.07L1841.57 585.54A58 58 0 0 0 1833.70 585.00Z" fill="#3462ae" stroke="#232428" stroke-width="0.9" stroke-linejoin="round"/>
<path d="M1849.44 528.07A116 116 0 0 1 1881.25 537.19L1857.48 590.10A58 58 0 0 0 1841.57 585.54Z" fill="#b5133a" stroke="#232428" stroke-width="0.9" stroke-linejoin="round"/>
<path d="M1881.25 537.19A116 116 0 0 1 1928.37 575.97L1881.04 609.48A58 58 0 0 0 1857.48 590.10Z" fill="#038a5b" stroke="#232428" stroke-width="0.9" stroke-linejoin="round"/>
<path d="M1928.37 575.97A116 116 0 0 1 1930.65 579.31L1882.18 611.16A58 58 0 0 0 1881.04 609.48Z" fill="#9b45d6" stroke="#232428" stroke-width="0.9" stroke-linejoin="round"/>
<path d="M1930.65 579.31A116 116 0 0 1 1937.24 695.30L1885.47 669.15A58 58 0 0 0 1882.18 611.16Z" fill="#fa6119" stroke="#232428" stroke-width="0.9" stroke-linejoin="round"/>
<path d="M1937.24 695.30A116 116 0 0 1 1920.71 719.71L1877.21 681.36A58 58 0 0 0 1885.47 669.15Z" fill="#fdb62b" stroke="#232428" stroke-width="0.9" stroke-linejoin="round"/>
<path d="M1920.71 719.71A116 116 0 0 1 1918.40 722.26L1876.05 682.63A58 58 0 0 0 1877.21 681.36Z" fill="#7ea6ee" stroke="#232428" stroke-width="0.9" stroke-linejoin="round"/>
<path d="M1918.40 722.26A116 116 0 0 1 1911.32 729.20L1872.51 686.10A58 58 0 0 0 1876.05 682.63Z" fill="#f7809f" stroke="#232428" stroke-width="0.9" stroke-linejoin="round"/>
<path d="M1911.32 729.20A116 116 0 0 1 1905.91 733.78L1869.81 688.39A58 58 0 0 0 1872.51 686.10Z" fill="#84dca2" stroke="#232428" stroke-width="0.9" stroke-linejoin="round"/>
<path d="M1905.91 733.78A116 116 0 0 1 1872.61 752.28L1853.16 697.64A58 58 0 0 0 1869.81 688.39Z" fill="#dab8ee" stroke="#232428" stroke-width="0.9" stroke-linejoin="round"/>
<path d="M1872.61 752.28A116 116 0 0 1 1869.93 753.20L1851.82 698.10A58 58 0 0 0 1853.16 697.64Z" fill="#5dd6ea" stroke="#232428" stroke-width="0.9" stroke-linejoin="round"/>
<path d="M1869.93 753.20A116 116 0 0 1 1861.37 755.65L1847.53 699.33A58 58 0 0 0 1851.82 698.10Z" fill="#fbb35c" stroke="#232428" stroke-width="0.9" stroke-linejoin="round"/>
<path d="M1861.37 755.65A116 116 0 0 1 1848.84 758.01L1841.27 700.50A58 58 0 0 0 1847.53 699.33Z" fill="#b5d3fb" stroke="#232428" stroke-width="0.9" stroke-linejoin="round"/>
<path d="M1848.84 758.01A116 116 0 0 1 1717.93 635.72L1775.81 639.36A58 58 0 0 0 1841.27 700.50Z" fill="#fcb0cb" stroke="#232428" stroke-width="0.9" stroke-linejoin="round"/>
<path d="M1717.93 635.72A116 116 0 0 1 1722.89 608.70L1778.29 625.85A58 58 0 0 0 1775.81 639.36Z" fill="#abe6bf" stroke="#232428" stroke-width="0.9" stroke-linejoin="round"/>
<path d="M1722.89 608.70A116 116 0 0 1 1723.69 606.19L1778.70 624.60A58 58 0 0 0 1778.29 625.85Z" fill="#2a2b2f" stroke="#232428" stroke-width="0.9" stroke-linejoin="round"/>
<path d="M1723.69 606.19A116 116 0 0 1 1727.73 595.82L1780.71 619.41A58 58 0 0 0 1778.70 624.60Z" fill="#c8f2fa" stroke="#232428" stroke-width="0.9" stroke-linejoin="round"/>
<path d="M1727.73 595.82A116 116 0 0 1 1728.57 593.98L1781.13 618.49A58 58 0 0 0 1780.71 619.41Z" fill="#e3a566" stroke="#232428" stroke-width="0.9" stroke-linejoin="round"/>
<path d="M1728.57 593.98A116 116 0 0 1 1733.44 584.65L1783.57 613.82A58 58 0 0 0 1781.13 618.49Z" fill="#fff1c0" stroke="#232428" stroke-width="0.9" stroke-linejoin="round"/>
<path d="M1733.44 584.65A116 116 0 0 1 1736.19 580.16L1784.95 611.58A58 58 0 0 0 1783.57 613.82Z" fill="#3058a8" stroke="#232428" stroke-width="0.9" stroke-linejoin="round"/>
<path d="M1736.19 580.16A116 116 0 0 1 1738.39 576.88L1786.04 609.94A58 58 0 0 0 1784.95 611.58Z" fill="#b5133a" stroke="#232428" stroke-width="0.9" stroke-linejoin="round"/>
<path d="M1738.39 576.88A116 116 0 0 1 1745.76 567.36L1789.73 605.18A58 58 0 0 0 1786.04 609.94Z" fill="#07895c" stroke="#232428" stroke-width="0.9" stroke-linejoin="round"/>
<path d="M1745.76 567.36A116 116 0 0 1 1746.82 566.14L1790.26 604.57A58 58 0 0 0 1789.73 605.18Z" fill="#2a2b2f" stroke="#232428" stroke-width="0.9" stroke-linejoin="round"/>
<path d="M1746.82 566.14A116 116 0 0 1 1749.14 563.59L1791.42 603.30A58 58 0 0 0 1790.26 604.57Z" fill="#9b45d6" stroke="#232428" stroke-width="0.9" stroke-linejoin="round"/>
<path d="M1749.14 563.59A116 116 0 0 1 1778.53 540.96L1806.11 591.98A58 58 0 0 0 1791.42 603.30Z" fill="#0d97ba" stroke="#232428" stroke-width="0.9" stroke-linejoin="round"/>
<path d="M1778.53 540.96A116 116 0 0 1 1833.70 527.00L1833.70 585.00A58 58 0 0 0 1806.11 591.98Z" fill="#f86a1d" stroke="#232428" stroke-width="0.9" stroke-linejoin="round"/>
<polyline points="1841.6,527.3 1842.0,509.0 1847.0,509.0" fill="none" stroke="#3462ae" stroke-width="1"/>
<text x="1856.5" y="512.9" font-size="10.7" fill="#b6bfca" stroke="#b6bfca" stroke-width="0.22" text-anchor="start"><tspan font-weight="700">(none)</tspan>: 12 (2.17%)</text>
<polyline points="1865.7,531.5 1905.5,532.5 1910.5,532.5" fill="none" stroke="#b5133a" stroke-width="1"/>
<text x="1920" y="536.4" font-size="10.7" fill="#b6bfca" stroke="#b6bfca" stroke-width="0.22" text-anchor="start"><tspan font-weight="700">B2B (ITCG)</tspan>: 26 (4.70%)</text>
<polyline points="1907.4,553.4 1933.0,555.0 1938.0,555.0" fill="none" stroke="#038a5b" stroke-width="1"/>
<text x="1947.5" y="558.9" font-size="10.7" fill="#b6bfca" stroke="#b6bfca" stroke-width="0.22" text-anchor="start"><tspan font-weight="700">Brand</tspan>: 44 (7.96%)</text>
<polyline points="1949.5,636.4 1968.0,638.5 1973.0,638.5" fill="none" stroke="#fa6119" stroke-width="1"/>
<text x="1982.5" y="642.4" font-size="10.7" fill="#b6bfca" stroke="#b6bfca" stroke-width="0.22" text-anchor="start"><tspan font-weight="700">Creative Services</tspan>: 93 (16.82%)</text>
<polyline points="1929.8,708.0 1959.0,695.0 1964.0,695.0" fill="none" stroke="#fdb62b" stroke-width="1"/>
<text x="1973.5" y="698.9" font-size="10.7" fill="#b6bfca" stroke="#b6bfca" stroke-width="0.22" text-anchor="start"><tspan font-weight="700">Customer Marketing</tspan>: 22 (3.98%)</text>
<polyline points="1914.9,725.8 1947.0,718.0 1952.0,718.0" fill="none" stroke="#f7809f" stroke-width="1"/>
<text x="1961.5" y="721.9" font-size="10.7" fill="#b6bfca" stroke="#b6bfca" stroke-width="0.22" text-anchor="start"><tspan font-weight="700">Digital Operations</tspan>: 7 (1.27%)</text>
<polyline points="1890.0,744.4 1920.0,740.5 1925.0,740.5" fill="none" stroke="#dab8ee" stroke-width="1"/>
<text x="1934.5" y="744.4" font-size="10.7" fill="#b6bfca" stroke="#b6bfca" stroke-width="0.22" text-anchor="start"><tspan font-weight="700">DP&amp;S Production (Large</tspan></text>
<text x="1934.5" y="760.4" font-size="10.7" fill="#b6bfca" stroke="#b6bfca" stroke-width="0.22" text-anchor="start"><tspan font-weight="700">Form...</tspan>: 29 (5.24%)</text>
<polyline points="1855.1,757.0 1858.0,780.0 1863.0,780.0" fill="none" stroke="#b5d3fb" stroke-width="1"/>
<text x="1872.5" y="783.9" font-size="10.7" fill="#b6bfca" stroke="#b6bfca" stroke-width="0.22" text-anchor="start"><tspan font-weight="700">External Communications</tspan>: 10 (1.81%)</text>
<polyline points="1754.5,727.8 1741.0,744.5 1736.0,744.5" fill="none" stroke="#fcb0cb" stroke-width="1"/>
<text x="1726" y="748.4" font-size="10.7" fill="#b6bfca" stroke="#b6bfca" stroke-width="0.22" text-anchor="end"><tspan font-weight="700">Internal Communications</tspan>: 156 (28.21%)</text>
<polyline points="1719.6,622.1 1700.0,668.0 1695.0,668.0" fill="none" stroke="#abe6bf" stroke-width="1"/>
<text x="1685" y="671.9" font-size="10.7" fill="#b6bfca" stroke="#b6bfca" stroke-width="0.22" text-anchor="end"><tspan font-weight="700">ISB/ICB (Cameras)</tspan>: 21 (3.80%)</text>
<polyline points="1725.6,601.0 1698.5,645.0 1693.5,645.0" fill="none" stroke="#c8f2fa" stroke-width="1"/>
<text x="1683.5" y="648.9" font-size="10.7" fill="#b6bfca" stroke="#b6bfca" stroke-width="0.22" text-anchor="end"><tspan font-weight="700">OPP (ITCG Printers)</tspan>: 8 (1.45%)</text>
<polyline points="1730.9,589.3 1700.0,622.5 1695.0,622.5" fill="none" stroke="#fff1c0" stroke-width="1"/>
<text x="1685" y="626.4" font-size="10.7" fill="#b6bfca" stroke="#b6bfca" stroke-width="0.22" text-anchor="end"><tspan font-weight="700">PRO</tspan>: 9 (1.63%)</text>
<polyline points="1734.8,582.4 1705.0,600.0 1700.0,600.0" fill="none" stroke="#3058a8" stroke-width="1"/>
<text x="1690" y="603.9" font-size="10.7" fill="#b6bfca" stroke="#b6bfca" stroke-width="0.22" text-anchor="end"><tspan font-weight="700">Product Marketing</tspan>: 5 (0.90%)</text>
<polyline points="1741.9,572.0 1716.0,578.0 1711.0,578.0" fill="none" stroke="#07895c" stroke-width="1"/>
<text x="1701" y="581.9" font-size="10.7" fill="#b6bfca" stroke="#b6bfca" stroke-width="0.22" text-anchor="end"><tspan font-weight="700">Retail &amp; CX</tspan>: 9 (1.63%)</text>
<polyline points="1748.0,564.9 1733.5,555.0 1728.5,555.0" fill="none" stroke="#9b45d6" stroke-width="1"/>
<text x="1718.5" y="558.9" font-size="10.7" fill="#b6bfca" stroke="#b6bfca" stroke-width="0.22" text-anchor="end"><tspan font-weight="700">Service &amp; Repair</tspan>: 2 (0.36%)</text>
<polyline points="1762.9,551.1 1760.0,532.5 1755.0,532.5" fill="none" stroke="#0d97ba" stroke-width="1"/>
<text x="1745" y="536.4" font-size="10.7" fill="#b6bfca" stroke="#b6bfca" stroke-width="0.22" text-anchor="end"><tspan font-weight="700">Social Media</tspan>: 29 (5.24%)</text>
<polyline points="1805.2,530.5 1797.5,509.0 1792.5,509.0" fill="none" stroke="#f86a1d" stroke-width="1"/>
<text x="1782.5" y="512.9" font-size="10.7" fill="#b6bfca" stroke="#b6bfca" stroke-width="0.22" text-anchor="end"><tspan font-weight="700">Sponsorship &amp; Events</tspan>: 43 (7.78%)</text>
<text x="1833.7" y="493.1" font-size="12.8" fill="#b6bfca" stroke="#b6bfca" stroke-width="0.22" text-anchor="middle"><tspan font-weight="700">Issues created</tspan>: 553</text>
</svg>
</div>
<div class="card" style="left:1144px;top:569px;width:733px;height:494px">
<div class="bar" style="background:#2684ff"></div>
<svg class="abs drag" style="left:22px;top:22.5px" width="10" height="14" viewBox="0 0 10 14" fill="#cfd0d3"><circle cx="2" cy="2" r="1.6"/><circle cx="8" cy="2" r="1.6"/><circle cx="2" cy="7" r="1.6"/><circle cx="8" cy="7" r="1.6"/><circle cx="2" cy="12" r="1.6"/><circle cx="8" cy="12" r="1.6"/></svg>
<div class="t ctitle" style="left:39.5px;top:21.5px">Jasdev Virdee</div>
<svg class="abs" style="left:600px;top:18px" width="115" height="24" viewBox="600 18 115 24" fill="none" stroke="#b8bac0" stroke-width="1.5" stroke-linecap="round" stroke-linejoin="round">
<g transform="translate(605,23.3)"><path d="M12.4 0.6 L7.6 5.4 M7.6 1.6 L7.6 5.4 L11.4 5.4"/><path d="M0.6 12.4 L5.4 7.6 M1.6 7.6 L5.4 7.6 L5.4 11.4"/></g>
<g transform="translate(635,23.2)"><path d="M0.8 4.6 L0.8 0.8 L4.6 0.8 M8.9 0.8 L12.7 0.8 L12.7 4.6 M12.7 8.9 L12.7 12.7 L8.9 12.7 M4.6 12.7 L0.8 12.7 L0.8 8.9"/></g>
<g transform="translate(664.8,23.2)"><path d="M2.2 4.6 A5.7 5.7 0 1 1 1.2 8.4"/><path d="M1.3 0.9 L1.3 5.1 L5.4 5.1"/></g>
<g fill="#b8bac0" stroke="none"><circle cx="695.8" cy="29.5" r="1.5"/><circle cx="701.7" cy="29.5" r="1.5"/><circle cx="707.6" cy="29.5" r="1.5"/></g>
</svg>
<div class="abs rbar" style="left:16px;top:56px;width:702px;height:28px"></div>
<div class="t rtitle" style="left:24.6px;top:63.5px">CS BU Split</div>
<svg class="abs" style="left:649.5px;top:62.5px" width="14" height="14" viewBox="0 0 14 14" fill="none" stroke="#b8bac0" stroke-width="1.3" stroke-linecap="round"><circle cx="7" cy="7" r="6"/><polyline points="7,3.6 7,7.2 9.3,8.6"/></svg>
<svg class="abs" style="left:674px;top:63.0px" width="14" height="13" viewBox="0 0 14 13" fill="none" stroke="#b8bac0" stroke-width="1.3"><rect x="0.8" y="0.8" width="12.4" height="11.4" rx="1.2"/><line x1="0.8" y1="4.6" x2="13.2" y2="4.6"/><line x1="0.8" y1="8.4" x2="13.2" y2="8.4"/><line x1="7" y1="4.6" x2="7" y2="12.2"/></svg>
<svg class="abs" style="left:698.7px;top:63px" width="12" height="15" viewBox="0 0 12 15" fill="none" stroke="#b8bac0" stroke-width="1.25" stroke-linejoin="round"><path d="M4.1 1.6 L7.9 1.6 L7.9 6.1 L10.3 6.1 L6 10.6 L1.7 6.1 L4.1 6.1 Z"/><line x1="1" y1="13.2" x2="11" y2="13.2" stroke-linecap="round"/></svg>
<div class="abs fbtn" style="left:16.0px;top:91.5px;width:69.0px"><span>2025</span><svg width="8" height="5" viewBox="0 0 8 5" fill="none" stroke="#b8bac0" stroke-width="1.3"><polyline points="0.8,0.8 4,4 7.2,0.8"/></svg></div>
<div class="abs fbtn" style="left:89.5px;top:91.5px;width:119.0px"><span>All Assignees</span><svg width="8" height="5" viewBox="0 0 8 5" fill="none" stroke="#b8bac0" stroke-width="1.3"><polyline points="0.8,0.8 4,4 7.2,0.8"/></svg></div>
<div class="abs fbtn" style="left:213.0px;top:91.5px;width:110.5px"><span>All Statuses</span><svg width="8" height="5" viewBox="0 0 8 5" fill="none" stroke="#b8bac0" stroke-width="1.3"><polyline points="0.8,0.8 4,4 7.2,0.8"/></svg></div>
<svg class="abs" style="left:0;top:0" width="733" height="494" viewBox="1467 835 733 494" font-family="Liberation Sans, Arial, sans-serif">
<path d="M1833.80 1007.90A113 113 0 0 1 1847.62 1008.75L1840.77 1064.33A57 57 0 0 0 1833.80 1063.90Z" fill="#3462ae" stroke="#232428" stroke-width="0.9" stroke-linejoin="round"/>
<path d="M1847.62 1008.75A113 113 0 1 1 1769.26 1213.66L1801.25 1167.69A57 57 0 1 0 1840.77 1064.33Z" fill="#b5133a" stroke="#232428" stroke-width="0.9" stroke-linejoin="round"/>
<path d="M1769.26 1213.66A113 113 0 0 1 1723.21 1144.11L1778.02 1132.61A57 57 0 0 0 1801.25 1167.69Z" fill="#038a5b" stroke="#232428" stroke-width="0.9" stroke-linejoin="round"/>
<path d="M1723.21 1144.11A113 113 0 0 1 1720.80 1121.19L1776.80 1121.05A57 57 0 0 0 1778.02 1132.61Z" fill="#9b45d6" stroke="#232428" stroke-width="0.9" stroke-linejoin="round"/>
<path d="M1720.80 1121.19A113 113 0 0 1 1721.36 1109.66L1777.08 1115.23A57 57 0 0 0 1776.80 1121.05Z" fill="#0d97ba" stroke="#232428" stroke-width="0.9" stroke-linejoin="round"/>
<path d="M1721.36 1109.66A113 113 0 0 1 1721.61 1107.37L1777.21 1114.07A57 57 0 0 0 1777.08 1115.23Z" fill="#fa6119" stroke="#232428" stroke-width="0.9" stroke-linejoin="round"/>
<path d="M1721.61 1107.37A113 113 0 0 1 1832.65 1007.91L1833.22 1063.90A57 57 0 0 0 1777.21 1114.07Z" fill="#fdb62b" stroke="#232428" stroke-width="0.9" stroke-linejoin="round"/>
<path d="M1832.65 1007.91A113 113 0 0 1 1833.80 1007.90L1833.80 1063.90A57 57 0 0 0 1833.22 1063.90Z" fill="#8fb4f5" stroke="#232428" stroke-width="0.9" stroke-linejoin="round"/>
<polyline points="1833.2,1007.9 1831.6,990.7 1826.6,990.7" fill="none" stroke="#8fb4f5" stroke-width="1"/>
<text x="1816.6" y="995.2" font-size="12.5" fill="#b6bfca" stroke="#b6bfca" stroke-width="0.22" text-anchor="end"><tspan font-weight="700">Legal &amp; IP</tspan>: 1 (0.16%)</text>
<polyline points="1840.7,1008.1 1841.7,990.7 1846.7,990.7" fill="none" stroke="#3462ae" stroke-width="1"/>
<text x="1856.2" y="995.2" font-size="12.5" fill="#b6bfca" stroke="#b6bfca" stroke-width="0.22" text-anchor="start"><tspan font-weight="700">(none)</tspan>: 12 (1.95%)</text>
<polyline points="1758.4,1036.7 1745.0,1024.4 1740.0,1024.4" fill="none" stroke="#fdb62b" stroke-width="1"/>
<text x="1730" y="1028.9" font-size="12.5" fill="#b6bfca" stroke="#b6bfca" stroke-width="0.22" text-anchor="end"><tspan font-weight="700">ITCG</tspan>: 141 (22.93%)</text>
<polyline points="1721.5,1108.5 1703.2,1097.3 1698.2,1097.3" fill="none" stroke="#fa6119" stroke-width="1"/>
<text x="1688.2" y="1101.8" font-size="12.5" fill="#b6bfca" stroke="#b6bfca" stroke-width="0.22" text-anchor="end"><tspan font-weight="700">IT</tspan>: 2 (0.33%)</text>
<polyline points="1720.9,1115.4 1701.3,1122.2 1696.3,1122.2" fill="none" stroke="#0d97ba" stroke-width="1"/>
<text x="1686.3" y="1126.7" font-size="12.5" fill="#b6bfca" stroke="#b6bfca" stroke-width="0.22" text-anchor="end"><tspan font-weight="700">HR</tspan>: 10 (1.63%)</text>
<polyline points="1721.4,1132.7 1703.2,1146.8 1698.2,1146.8" fill="none" stroke="#9b45d6" stroke-width="1"/>
<text x="1688.2" y="1151.3" font-size="12.5" fill="#b6bfca" stroke="#b6bfca" stroke-width="0.22" text-anchor="end"><tspan font-weight="700">DRBG</tspan>: 20 (3.25%)</text>
<polyline points="1739.6,1183.3 1722.7,1196.2 1717.7,1196.2" fill="none" stroke="#038a5b" stroke-width="1"/>
<text x="1707.7" y="1200.7" font-size="12.5" fill="#b6bfca" stroke="#b6bfca" stroke-width="0.22" text-anchor="end"><tspan font-weight="700">DP&amp;S</tspan>: 74 (12.03%)</text>
<polyline points="1939.3,1161.3 1957.3,1169.4 1962.3,1169.4" fill="none" stroke="#b5133a" stroke-width="1"/>
<text x="1971.8" y="1173.9" font-size="12.5" fill="#b6bfca" stroke="#b6bfca" stroke-width="0.22" text-anchor="start"><tspan font-weight="700">CCMS</tspan>: 355 (57.72%)</text>
<text x="1833.8" y="974.5" font-size="14.4" fill="#b6bfca" stroke="#b6bfca" stroke-width="0.22" text-anchor="middle"><tspan font-weight="700">Issues created</tspan>: 615</text>
<rect x="1548.5" y="1285.5" width="13" height="13" rx="1" fill="#3462ae"/>
<text x="1569" y="1297.2" font-size="12.5" font-weight="700" fill="#b6bfca" stroke="#b6bfca" stroke-width="0.22">(none)</text>
<rect x="1629" y="1285.5" width="13" height="13" rx="1" fill="#b5133a"/>
<text x="1648.5" y="1297.2" font-size="12.5" font-weight="700" fill="#b6bfca" stroke="#b6bfca" stroke-width="0.22">CCMS</text>
<rect x="1708" y="1285.5" width="13" height="13" rx="1" fill="#038a5b"/>
<text x="1727.5" y="1297.2" font-size="12.5" font-weight="700" fill="#b6bfca" stroke="#b6bfca" stroke-width="0.22">DP&amp;S</text>
<rect x="1783.5" y="1285.5" width="13" height="13" rx="1" fill="#9b45d6"/>
<text x="1803" y="1297.2" font-size="12.5" font-weight="700" fill="#b6bfca" stroke="#b6bfca" stroke-width="0.22">DRBG</text>
<rect x="1860" y="1285.5" width="13" height="13" rx="1" fill="#0d97ba"/>
<text x="1879" y="1297.2" font-size="12.5" font-weight="700" fill="#b6bfca" stroke="#b6bfca" stroke-width="0.22">HR</text>
<rect x="1918" y="1285.5" width="13" height="13" rx="1" fill="#fa6119"/>
<text x="1937.5" y="1297.2" font-size="12.5" font-weight="700" fill="#b6bfca" stroke="#b6bfca" stroke-width="0.22">IT</text>
<rect x="1970.5" y="1285.5" width="13" height="13" rx="1" fill="#fdb62b"/>
<text x="1989.5" y="1297.2" font-size="12.5" font-weight="700" fill="#b6bfca" stroke="#b6bfca" stroke-width="0.22">ITCG</text>
<rect x="2041.5" y="1285.5" width="13" height="13" rx="1" fill="#8fb4f5"/>
<text x="2060.5" y="1297.2" font-size="12.5" font-weight="700" fill="#b6bfca" stroke="#b6bfca" stroke-width="0.22">Legal &amp; IP</text>
</svg>
</div>
<div class="card" style="left:1144px;top:1080px;width:733px;height:100px"><div class="bar" style="background:#2684ff"></div></div>
<div class="abs" style="left:1847px;top:1034.7px;width:45px;height:45px;border-radius:12px;background:#d4d5d9;z-index:5"></div>
<svg class="abs" style="left:1859.5px;top:1045px;z-index:6" width="21" height="23" viewBox="0 0 21 23"><path d="M10.5 0.6 L19.9 6 L19.9 17 L10.5 22.4 L1.1 17 L1.1 6 Z" fill="#222325" stroke="#222325" stroke-width="0.8" stroke-linejoin="round"/><path d="M10.5 5.6 L12.9 7.1 L12.9 15.9 L10.5 17.4 L8.1 15.9 L8.1 7.1 Z" fill="#d4d5d9"/><line x1="9.4" y1="0" x2="11.6" y2="23" stroke="#d4d5d9" stroke-width="1"/></svg>
<div class="abs" style="left:0;top:1102.5px;width:1914px;height:2.5px;background:#18191b;z-index:7"></div>
<div class="abs" style="left:386.2px;top:1102px;width:4.4px;height:3px;background:#6a9a23;z-index:8"></div>
<div class="abs" style="left:398.4px;top:1103.6px;width:14px;height:1.4px;background:#2f6fd6;z-index:8"></div>
<div class="abs" style="left:714.3px;top:1103.5px;width:18.3px;height:1.5px;background:#1c3a6b;z-index:8"></div>
<div class="abs" style="left:764.9px;top:1102px;width:3.5px;height:3px;background:#e56910;z-index:8"></div>
<div class="abs" style="left:1143.6px;top:1102px;width:4px;height:3px;background:#6e5dc6;z-index:8"></div>
<div class="abs" style="left:1156.6px;top:1103.6px;width:11.3px;height:1.2px;background:#2f6fd6;z-index:8"></div>

</div>
</body></html>
